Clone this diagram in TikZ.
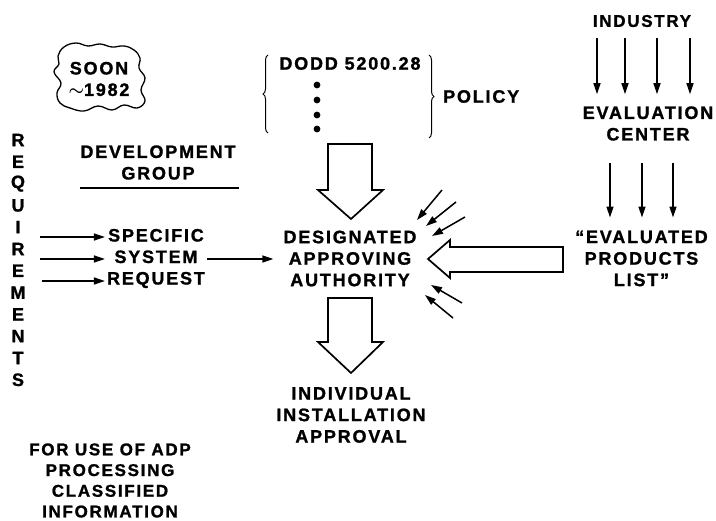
\documentclass[tikz,border=0pt]{standalone}
\usepackage{fontspec}
\setmainfont{Liberation Sans}
\newfontfamily\lab[LetterSpace=10, BoldFeatures={FakeBold=1.2}]{Liberation Sans}
\usetikzlibrary{arrows.meta,decorations.pathreplacing}
\begin{document}
\begin{tikzpicture}[x=1pt,y=-1pt,
  lbl/.style={font=\lab\bfseries\fontsize{18}{21.5}\selectfont, align=center, inner sep=2pt},
  sml/.style={font=\lab\bfseries\fontsize{17}{20.7}\selectfont, align=center, inner sep=2pt},
  arr/.style={line width=1.5pt, -{Triangle[length=11pt,width=7pt]}},
  blk/.style={draw, line width=1.7pt, fill=white, line join=miter},
  brc/.style={line width=1pt, decorate, decoration={brace, amplitude=5pt}}]
\fill[white] (0,0) rectangle (716,521);
\useasboundingbox (0,0) rectangle (716,521);

% cloud
\draw[line width=1.3pt] plot[smooth cycle, tension=0.7] coordinates {
 (58,56) (64,47) (76,43) (88,46) (100,44) (112,47) (124,46) (134,50) (140,58)
 (139,68) (145,78) (141,90) (145,101) (137,108) (124,105) (112,110) (98,106)
 (84,111) (70,108) (60,103) (57,93) (61,83) (54,72) (59,64)};
\node[lbl] (soon) at (99,79) {SOON\\{\boldmath$\sim$}1982};

% policy
\node[lbl] (dodd) at (350,63.5) {DODD 5200.28};
\draw[brc] (268,133) -- (268,55);
\draw[brc] (429,55) -- (429,138);
\foreach \yy in {85,100,115,129} \fill (317,\yy) circle (3.4pt);
\node[lbl, anchor=west] (policy) at (441,96.5) {POLICY};

% requirements
\foreach \l [count=\i from 0] in {R,E,Q,U,I,R,E,M,E,N,T,S}
  \node[lbl] (rq\i) at (18,{140+21.8*\i}) {\l};

% development group
\node[lbl] (dev) at (158,162.5) {DEVELOPMENT\\GROUP};
\coordinate (dl1) at (80,188);
\coordinate (dl2) at (239,188);
\draw[line width=1.3pt] (dl1) -- (dl2);

% specific system request
\node[lbl] (ssr) at (156,258.5) {SPECIFIC\\SYSTEM\\REQUEST};
\coordinate (s1) at (40,237);
\coordinate (s2) at (40,259);
\coordinate (s3) at (42,281);
\draw[arr] (s1) -- (s1 -| ssr.west);
\draw[arr] (s2) -- (s2 -| ssr.west);
\draw[arr] (s3) -- (s3 -| ssr.west);

% DAA
\node[lbl] (daa) at (350,258.5) {DESIGNATED\\APPROVING\\AUTHORITY};
\draw[arr, shorten >=8pt] (ssr.east |- s2) -- (daa.west |- s2);

% block arrows
\draw[blk] (328,144) -- (372,144) -- (372,190) -- (383,190) -- (351,219) -- (318,190) -- (328,190) -- cycle;
\draw[blk] (328,298) -- (372,298) -- (372,342) -- (383,342) -- (351,373) -- (318,342) -- (328,342) -- cycle;
\draw[blk] (563,247) -- (450,247) -- (450,240) -- (428,259) -- (450,278) -- (450,272) -- (563,272) -- cycle;

\node[lbl] (iia) at (351,415) {INDIVIDUAL\\INSTALLATION\\APPROVAL};

% small arrows
\coordinate (a1s) at (442,190); \coordinate (a1e) at (417,220);
\coordinate (a2s) at (456,202); \coordinate (a2e) at (426,226);
\coordinate (a3s) at (465,217); \coordinate (a3e) at (432,236);
\coordinate (b1s) at (462,303); \coordinate (b1e) at (431,285);
\coordinate (b2s) at (453,318); \coordinate (b2e) at (425,295);
\foreach \p in {a1,a2,a3,b1,b2} \draw[arr] (\p s) -- (\p e);

% right side
\node[sml] (ind) at (642,21) {INDUSTRY};
\node[lbl] (ec) at (648,123.5) {EVALUATION\\CENTER};
\foreach \xx in {597,625,657,690}
  \draw[arr, shorten <=9pt, shorten >=10pt] (\xx,0 |- ind.south) -- (\xx,0 |- ec.north);
\node[lbl] (epl) at (641.5,258.5) {“EVALUATED\\PRODUCTS\\LIST”};
\foreach \xx in {610,642,673}
  \draw[arr, shorten <=20pt, shorten >=11pt] (\xx,0 |- ec.south) -- (\xx,0 |- epl.north);

% bottom left
\node[sml] (use) at (110,480.5) {FOR USE OF ADP\\PROCESSING\\CLASSIFIED\\INFORMATION};
\end{tikzpicture}
\end{document}
